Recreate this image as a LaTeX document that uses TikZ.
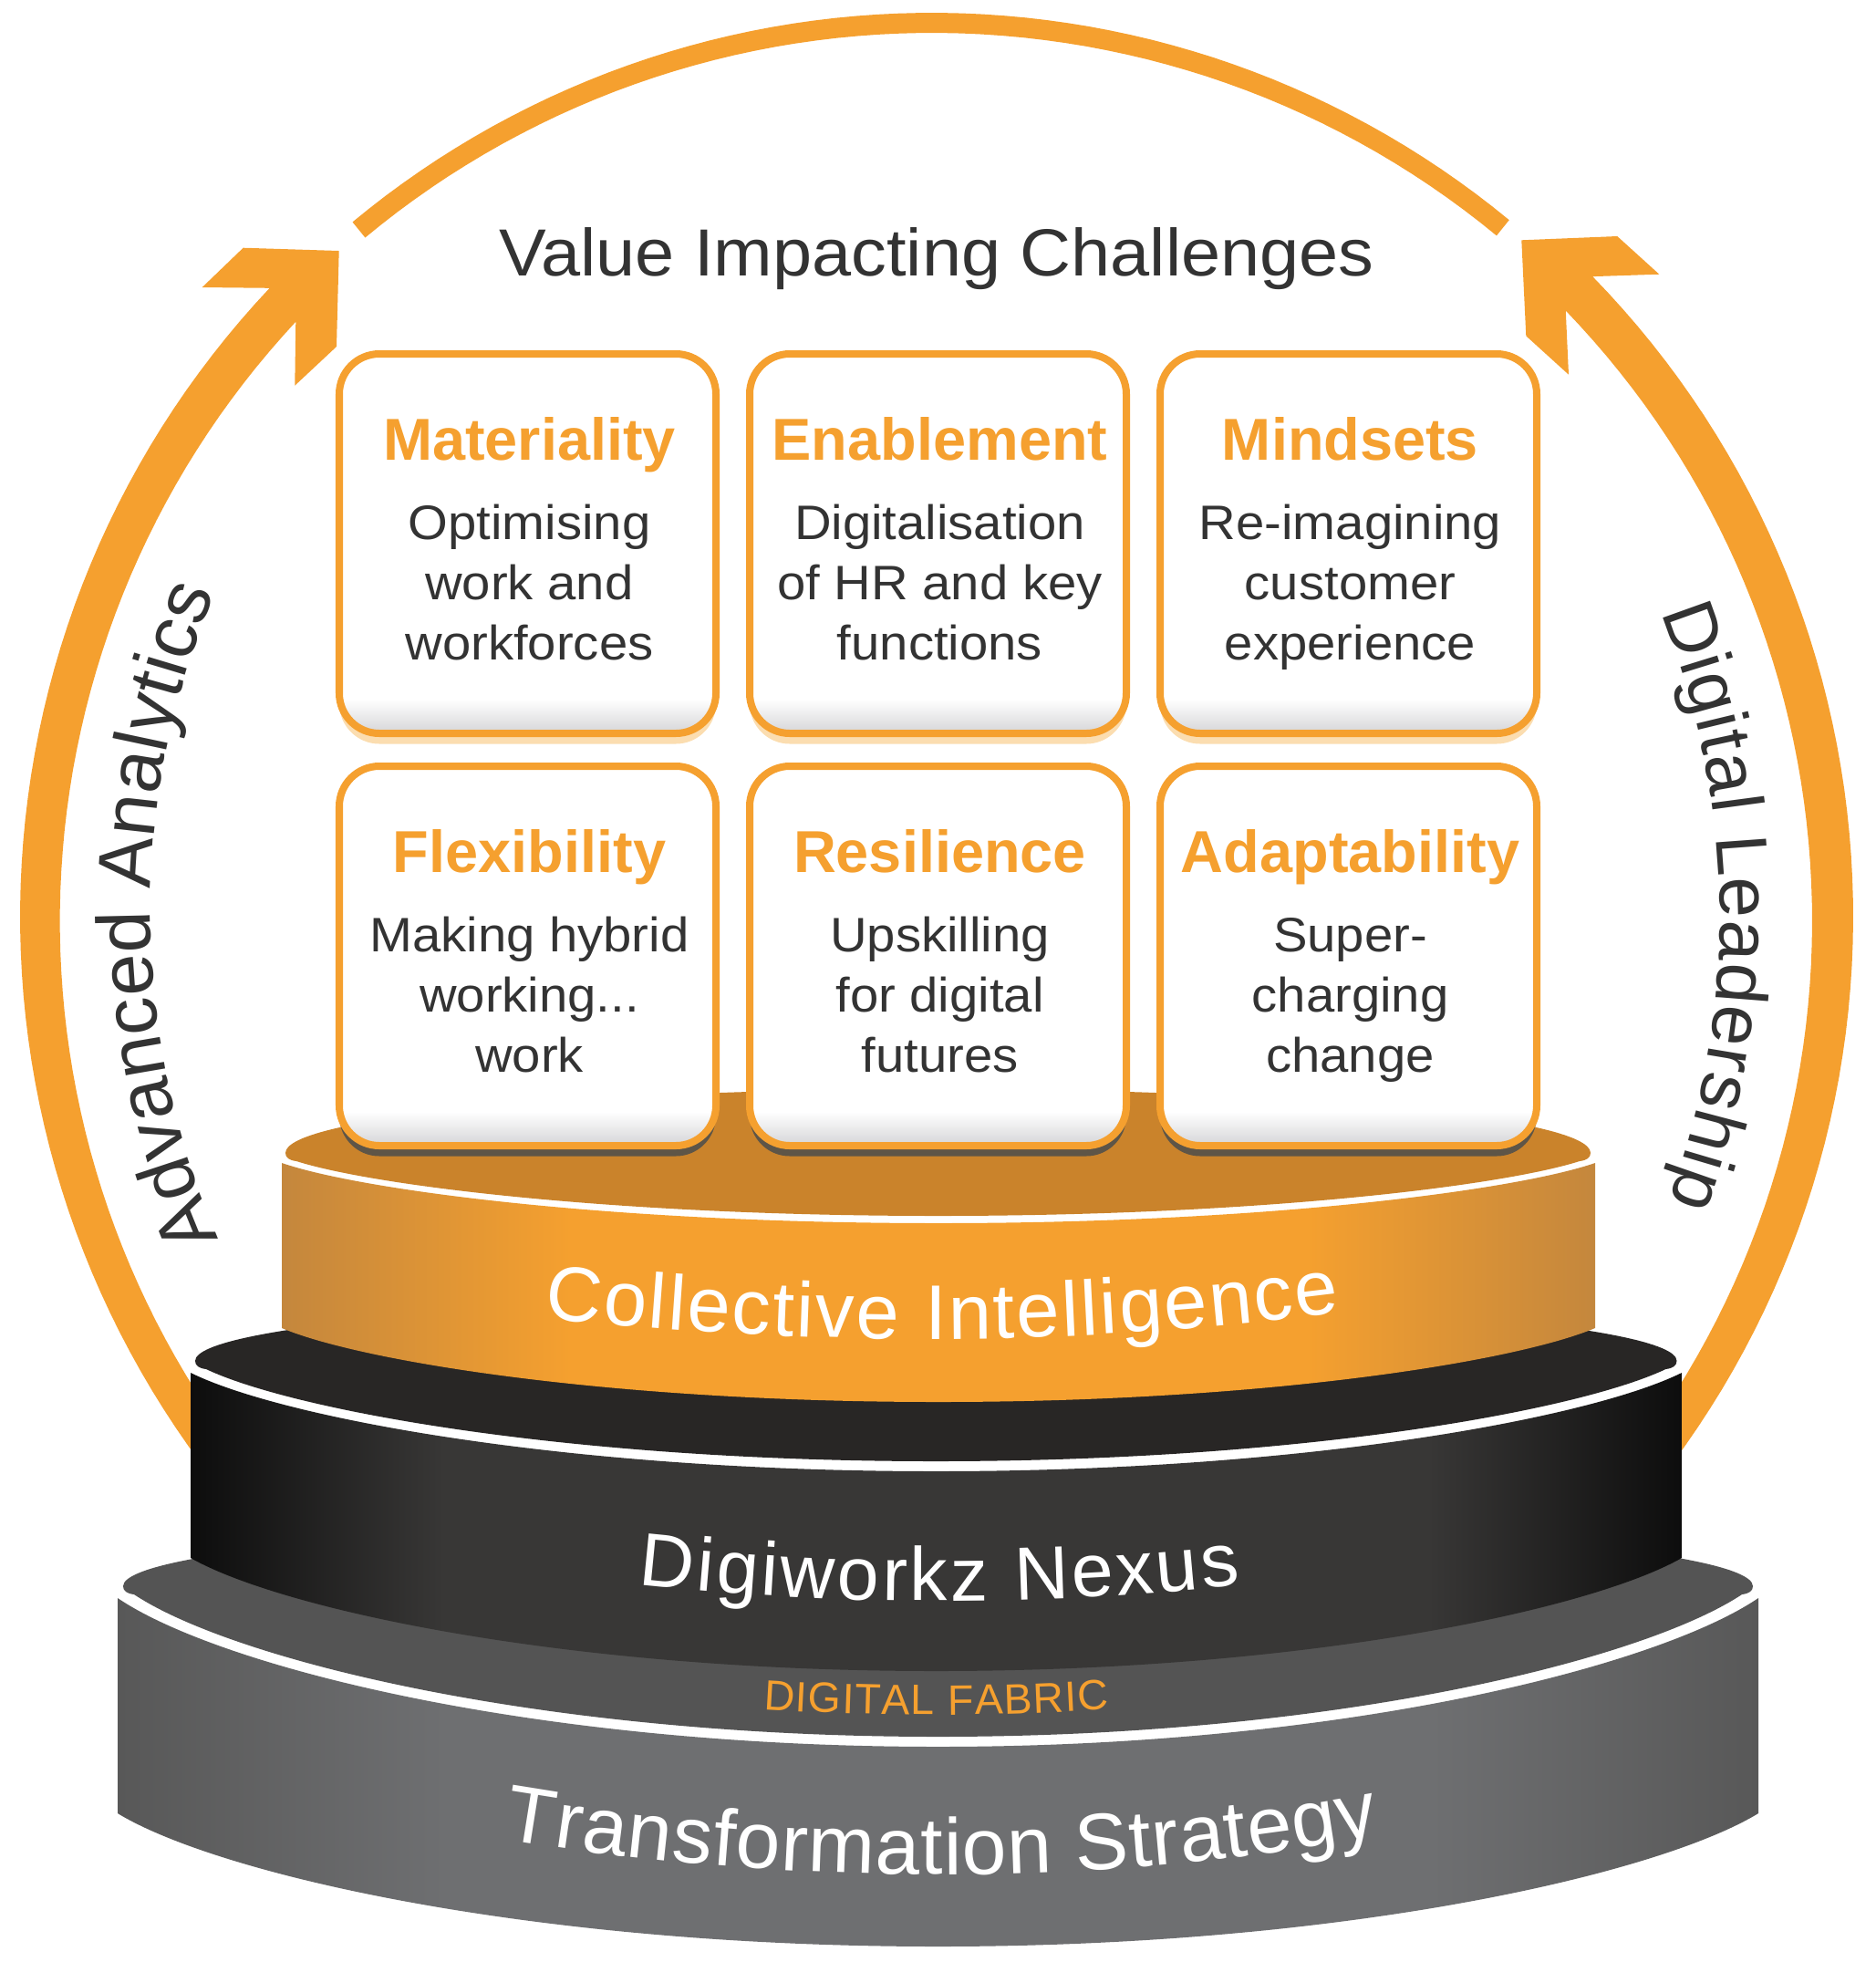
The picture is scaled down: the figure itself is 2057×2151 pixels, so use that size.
\documentclass[tikz,border=0pt]{standalone}
\usepackage{fontspec}
\setmainfont{Liberation Sans}[FakeStretch=1.06]
\newfontfamily\headfont{Liberation Sans}
\usetikzlibrary{decorations.text, shadows}

\definecolor{accent}{HTML}{F5A02F}
\definecolor{inkgrey}{HTML}{333333}
\definecolor{orangedisc}{HTML}{CA832B}
\definecolor{orangeedge}{HTML}{C4873D}
\definecolor{blackdisc}{HTML}{282625}
\definecolor{blackedge}{HTML}{0D0D0D}
\definecolor{blackmid}{HTML}{383736}
\definecolor{greydisc}{HTML}{545454}
\definecolor{greyedge}{HTML}{585858}
\definecolor{greymid}{HTML}{6E6F71}
\definecolor{paleshadow}{HTML}{FBDDB0}
\definecolor{darkshadow}{HTML}{5E5547}
\definecolor{cardfoot}{HTML}{D5D5D7}

\pgfdeclarehorizontalshading{orangeface}{100bp}{color(0bp)=(orangeedge); color(25bp)=(orangeedge); color(36bp)=(accent); color(64bp)=(accent); color(75bp)=(orangeedge); color(100bp)=(orangeedge)}
\pgfdeclarehorizontalshading{blackface}{100bp}{color(0bp)=(blackedge); color(25bp)=(blackedge); color(33.5bp)=(blackmid); color(66.5bp)=(blackmid); color(75bp)=(blackedge); color(100bp)=(blackedge)}
\pgfdeclarehorizontalshading{greyface}{100bp}{color(0bp)=(greyedge); color(25bp)=(greyedge); color(35bp)=(greymid); color(65bp)=(greymid); color(75bp)=(greyedge); color(100bp)=(greyedge)}
\pgfdeclareverticalshading{cardface}{100bp}{color(0bp)=(cardfoot); color(25bp)=(cardfoot); color(29.5bp)=(white); color(100bp)=(white)}

% left x, right x, y at left end, y in the middle, y at right end
\newcommand{\rimpath}[5]{({#1},{#3}) .. controls ({#1+.06*(#2-#1)},{#3+.45*(#4-#3)}) and ({(#1+#2)/2-.25*(#2-#1)},{#4}) .. ({(#1+#2)/2},{#4}) .. controls ({(#1+#2)/2+.25*(#2-#1)},{#4}) and ({#2-.06*(#2-#1)},{#5+.45*(#4-#5)}) .. ({#2},{#5})}
% left tip x, right tip x, tip y, lowest y, highest y
\newcommand{\discpath}[5]{({#1},{#3}) .. controls ({#1},{#3+5}) and ({#1+4},{#3+8}) .. ({#1+12},{#3+9}) -- \rimpath{(#1+12)}{(#2-12)}{(#3+9)}{#4}{(#3+9)} .. controls ({#2-4},{#3+8}) and ({#2},{#3+5}) .. ({#2},{#3}) .. controls ({#2},{#3+.5523*(#5-#3)}) and ({(#1+#2)/2+.276*(#2-#1)},{#5}) .. ({(#1+#2)/2},{#5}) .. controls ({(#1+#2)/2-.276*(#2-#1)},{#5}) and ({#1},{#3+.5523*(#5-#3)}) .. ({#1},{#3}) -- cycle}

\tikzstyle{cardbox} = [draw=accent, line width=1.6mm, rounded corners=8.8mm, minimum width=82.6mm, minimum height=83.2mm, shading=cardface, general shadow={fill=#1, shadow yshift=-2.3mm}]
\tikzstyle{cardtitle} = [anchor=base, inner sep=0pt, text=accent, font=\headfont\bfseries\fontsize{36.9}{44}\selectfont]
\tikzstyle{cardbody} = [anchor=base, inner sep=0pt, align=center, text=inkgrey, font=\fontsize{30.2}{37.5}\selectfont]

\begin{document}
\begin{tikzpicture}[x=0.2mm, y=-0.2mm, bandtext/.style n args={3}{decorate, decoration={text along path, text align={fit to path}, text={|\color{#1}\headfont\fontsize{#2}{58}\selectfont|#3}}}]

    \useasboundingbox (0,0) rectangle (2057,2151);

    % the ring
    \fill[accent] plot[domain=142:223.3,samples=60] ({1027+1005*cos(\x)},{1005+1005*sin(\x)}) -- (221.7,315) -- (266.7,271.7) -- (371.7,275) -- (369,380) -- (323.3,422.7) -- (324.3,352.3) -- plot[domain=223:145,samples=60] ({1030+964.4*cos(\x)},{1010+964.4*sin(\x)}) -- cycle;
    \fill[accent] plot[domain=38:-44.3,samples=60] ({1027+1005*cos(\x)},{1005+1005*sin(\x)}) -- (1819.3,300.7) -- (1773.3,259) -- (1668.3,263.3) -- (1673.3,368.3) -- (1720,410.7) -- (1716.7,339.3) -- plot[domain=-44:35,samples=60] ({1022.6+964.4*cos(\x)},{1010+964.4*sin(\x)}) -- cycle;
    \draw[accent, line width=4.4mm] plot[domain=230.3:309.5,samples=60] ({1022+984*cos(\x)},{1009+984*sin(\x)});

    % bottom tier
    \fill[white] (129,1738) rectangle (1928,1915);
    \fill[greydisc] \discpath{135}{1922}{1739}{1904}{1665};
    \shade[shading=greyface] \rimpath{129}{1928}{1752}{1915}{1752} -- (1928,1988) -- \rimpath{1928}{129}{1988}{2134}{1988} -- cycle;

    % middle tier
    \fill[white] (209,1492) rectangle (1844,1613);
    \fill[blackdisc] \discpath{214}{1838.5}{1492}{1602}{1422};
    \shade[shading=blackface] \rimpath{209}{1844}{1505}{1613}{1505} -- (1844,1708) -- \rimpath{1844}{209}{1708}{1832}{1708} -- cycle;

    % top tier
    \fill[white] (309,1264) rectangle (1749,1341);
    \fill[orangedisc] \discpath{313}{1744}{1264}{1333}{1194};
    \shade[shading=orangeface] \rimpath{309}{1749}{1275}{1341}{1275} -- (1749,1456) -- \rimpath{1749}{309}{1456}{1537}{1456} -- cycle;

    % cards
    \foreach \cname/\cx/\cy/\cshadow/\ctitle/\cbody in {
      materiality/578.5/596/paleshadow/Materiality/{Optimising\\work and\\workforces},
      enablement/1028.5/596/paleshadow/Enablement/{Digitalisation\\of HR and key\\functions},
      mindsets/1478.5/596/paleshadow/Mindsets/{Re-imagining\\customer\\experience},
      flexibility/578.5/1048/darkshadow/Flexibility/{Making hybrid\\working...\\work},
      resilience/1028.5/1048/darkshadow/Resilience/{Upskilling\\for digital\\futures},
      adaptability/1478.5/1048/darkshadow/Adaptability/{Super-\\charging\\change}} {
      \node[cardbox=\cshadow] (\cname) at (\cx,\cy) {};
      \node[cardtitle] (\cname title) at ({\cx+2},{\cy-92}) {\ctitle};
      \node[cardbody] (\cname body) at ({\cx+2},{\cy+127}) {\cbody};
    }

    \node[anchor=base, inner sep=0pt, text=inkgrey, font=\fontsize{41.6}{50}\selectfont] (challenges) at (1027,302) {Value Impacting Challenges};

    % curved words
    \path[bandtext={inkgrey}{47.2}{Advanced Analytics}] plot[domain=156.5:202.9,samples=50] ({1065+900*cos(\x)},{1000+900*sin(\x)});
    \path[bandtext={inkgrey}{45.5}{Digital Leadership}] plot[domain=-21.9:20.4,samples=50] ({991+895*cos(\x)},{1005+895*sin(\x)});
    \path[bandtext={white}{48.4}{Collective Intelligence}] (597,1445) .. controls (740,1461) and (890,1468) .. (1030,1468) .. controls (1170,1468) and (1320,1458) .. (1469,1439);
    \path[bandtext={white}{47}{Digiworkz Nexus}] (700,1737) .. controls (810,1749) and (920,1755) .. (1030,1755) .. controls (1140,1755) and (1250,1750) .. (1360,1737);
    \path[bandtext={accent}{26.5}{DIGITAL FABRIC}] (837,1874) .. controls (900,1878) and (965,1880) .. (1028,1880) .. controls (1090,1880) and (1150,1878) .. (1216,1874);
    \path[bandtext={white}{50}{Transformation Strategy}] (552,2016) .. controls (710,2043) and (870,2055) .. (1030,2055) .. controls (1190,2055) and (1350,2042) .. (1513,2012);

\end{tikzpicture}
\end{document}
